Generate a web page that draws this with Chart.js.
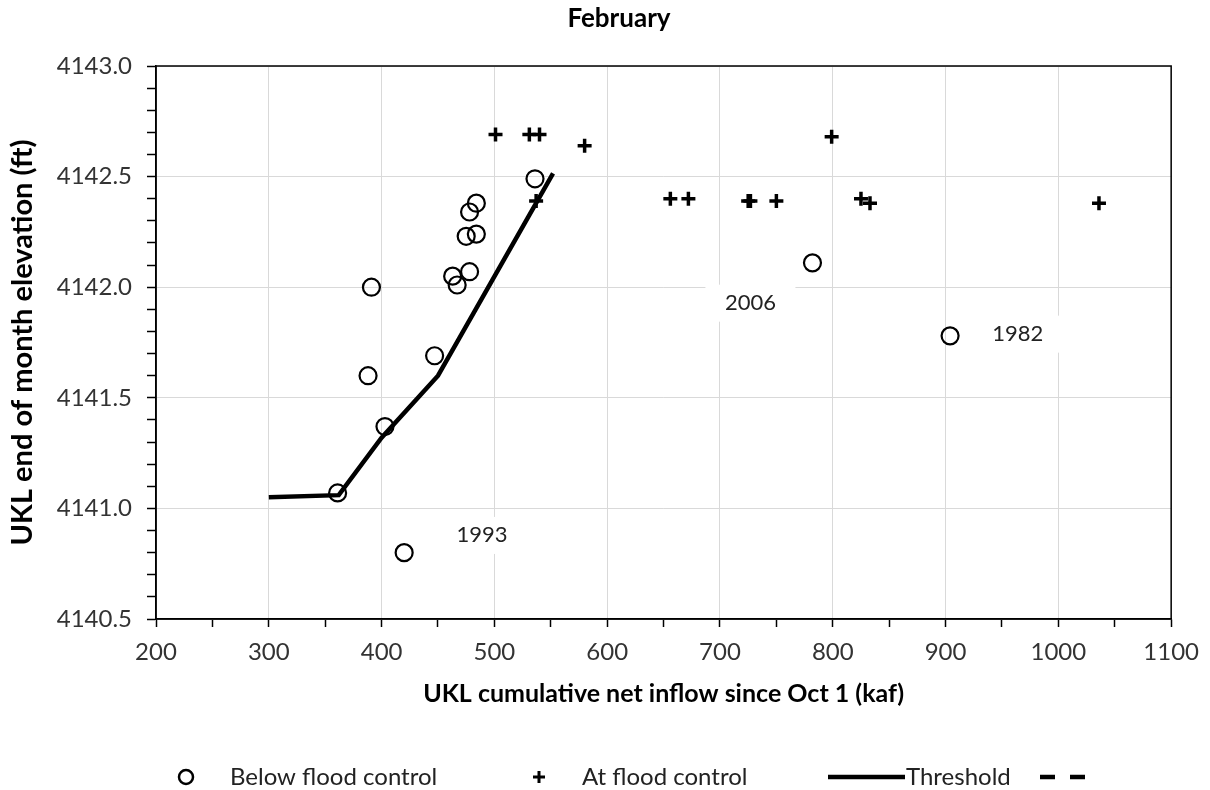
<!DOCTYPE html>
<html>
<head>
<meta charset="utf-8">
<script src="https://cdn.jsdelivr.net/npm/chart.js@4"></script>
<style>
  html, body { margin: 0; padding: 0; background: #fff; }
</style>
</head>
<body>
<canvas id="myChart" width="1210" height="790"></canvas>
<script>
// years below flood control (circles)
const belowX = [536, 484, 478, 484, 475, 478, 463, 467, 391, 447, 388, 403, 361, 420, 782, 904];
const belowY = [4142.49, 4142.38, 4142.34, 4142.24, 4142.23, 4142.07, 4142.05, 4142.01, 4142.00,
                4141.69, 4141.60, 4141.37, 4141.07, 4140.80, 4142.11, 4141.78];

// years at flood control (crosses)
const atX = [501, 531, 540, 580, 537, 656, 672, 725, 727, 750, 799, 825, 833, 1036];
const atY = [4142.69, 4142.69, 4142.69, 4142.64, 4142.39, 4142.40, 4142.40, 4142.39, 4142.39,
             4142.39, 4142.68, 4142.40, 4142.38, 4142.38];

// threshold curve
const thresholdX = [300, 362, 400, 450, 552];
const thresholdY = [4141.05, 4141.06, 4141.32, 4141.60, 4142.515];

// annotated years
const yearText = ['1993', '2006', '1982'];
const yearX = [489, 727, 964];
const yearY = [4140.88, 4141.93, 4141.79];

const FONT = 'Lato, "Open Sans", sans-serif';
const GRID = '#d9d9d9';

const toPoints = (xs, ys) => xs.map((x, i) => ({ x: x, y: ys[i] }));

const framePlugin = {
    id: 'frame',
    afterDraw(chart) {
        const { ctx, chartArea: a } = chart;
        ctx.save();
        ctx.strokeStyle = '#000';
        ctx.lineWidth = 1.5;
        ctx.strokeRect(a.left, a.top, a.right - a.left, a.bottom - a.top);
        // title
        ctx.fillStyle = '#000';
        ctx.font = 'bold 26px ' + FONT;
        ctx.textAlign = 'center';
        ctx.textBaseline = 'middle';
        ctx.fillText('February', 619, 19);
        ctx.restore();
    }
};

const yearPlugin = {
    id: 'years',
    afterDatasetsDraw(chart) {
        const { ctx, scales } = chart;
        ctx.save();
        ctx.font = '22px ' + FONT;
        ctx.textAlign = 'center';
        ctx.textBaseline = 'middle';
        yearText.forEach((t, i) => {
            const px = scales.x.getPixelForValue(yearX[i]);
            const py = scales.y.getPixelForValue(yearY[i]);
            ctx.fillStyle = '#fff';
            ctx.fillRect(px - 45, py - 18, 90, 37);
            ctx.fillStyle = '#222';
            ctx.fillText(t, px, py);
        });
        ctx.restore();
    }
};

const legendPlugin = {
    id: 'bottomLegend',
    afterDraw(chart) {
        const ctx = chart.ctx;
        const y = 777;
        ctx.save();
        ctx.strokeStyle = '#000';
        ctx.fillStyle = '#222';
        ctx.font = '24px ' + FONT;
        ctx.textBaseline = 'middle';
        ctx.textAlign = 'left';
        // circle
        ctx.lineWidth = 2.5;
        ctx.beginPath();
        ctx.arc(186, y, 7, 0, Math.PI * 2);
        ctx.stroke();
        ctx.fillText(chart.data.datasets[0].label, 230, y);
        // cross
        ctx.lineWidth = 3;
        ctx.beginPath();
        ctx.moveTo(533, y); ctx.lineTo(545, y);
        ctx.moveTo(539, y - 6); ctx.lineTo(539, y + 6);
        ctx.stroke();
        ctx.fillText(chart.data.datasets[1].label, 582, y);
        // threshold line
        ctx.lineWidth = 4.5;
        ctx.beginPath();
        ctx.moveTo(828, y); ctx.lineTo(905, y);
        ctx.stroke();
        ctx.fillText(chart.data.datasets[2].label, 906, y);
        // dashed
        ctx.setLineDash([15, 15]);
        ctx.beginPath();
        ctx.moveTo(1040, y); ctx.lineTo(1085, y);
        ctx.stroke();
        ctx.restore();
    }
};

const data = {
    datasets: [{
        label: 'Below flood control',
        data: toPoints(belowX, belowY),
        showLine: false,
        pointStyle: 'circle',
        pointRadius: 8.5,
        pointBorderWidth: 2.2,
        borderColor: '#000',
        backgroundColor: 'rgba(0,0,0,0)',
        order: 1
    }, {
        label: 'At flood control',
        data: toPoints(atX, atY),
        showLine: false,
        pointStyle: 'cross',
        pointRadius: 7,
        pointBorderWidth: 3.5,
        borderColor: '#000',
        backgroundColor: '#000',
        order: 2
    }, {
        label: 'Threshold',
        data: toPoints(thresholdX, thresholdY),
        showLine: true,
        borderColor: '#000',
        borderWidth: 4.5,
        pointRadius: 0,
        tension: 0,
        order: 3
    }, {
        label: '',
        data: [],
        showLine: true,
        borderColor: '#000',
        borderWidth: 4.5,
        borderDash: [15, 15],
        pointRadius: 0,
        order: 4
    }]
};

const isMajorX = v => Math.abs(v % 100) < 1e-6;
const isMajorY = v => Math.abs(v * 2 - Math.round(v * 2)) < 1e-6;

const config = {
    type: 'scatter',
    data: data,
    options: {
        responsive: false,
        animation: false,
        layout: { padding: { top: 66, right: 37, bottom: 81, left: 0 } },
        plugins: {
            legend: { display: false },
            tooltip: { enabled: false }
        },
        scales: {
            x: {
                type: 'linear',
                min: 200,
                max: 1100,
                afterFit: s => { s.height = 90; },
                ticks: {
                    stepSize: 50,
                    autoSkip: false,
                    maxRotation: 0,
                    padding: 11,
                    color: '#333',
                    font: { family: FONT, size: 24 },
                    callback: v => isMajorX(v) ? v : ''
                },
                grid: {
                    color: c => isMajorX(c.tick.value) ? GRID : 'rgba(0,0,0,0)',
                    tickColor: '#000',
                    tickLength: 8,
                    tickWidth: 1.5
                },
                border: { display: true, color: '#000', width: 1.5 },
                title: {
                    display: true,
                    text: 'UKL cumulative net inflow since Oct 1 (kaf)',
                    color: '#000',
                    font: { family: FONT, size: 25, weight: 'bold' },
                    padding: { top: 1, bottom: 0 }
                }
            },
            y: {
                type: 'linear',
                min: 4140.5,
                max: 4143,
                afterFit: s => { s.width = 156; },
                ticks: {
                    stepSize: 0.1,
                    autoSkip: false,
                    padding: 15,
                    color: '#333',
                    font: { family: FONT, size: 24 },
                    callback: v => isMajorY(v) ? v.toFixed(1) : ''
                },
                grid: {
                    color: c => isMajorY(c.tick.value) ? GRID : 'rgba(0,0,0,0)',
                    tickColor: '#000',
                    tickLength: 9,
                    tickWidth: 1.5
                },
                border: { display: true, color: '#000', width: 1.5 },
                title: {
                    display: true,
                    text: 'UKL end of month elevation (ft)',
                    color: '#000',
                    font: { family: FONT, size: 29, weight: 'bold' },
                    padding: { top: 5, bottom: 0 }
                }
            }
        }
    },
    plugins: [framePlugin, yearPlugin, legendPlugin]
};

const myChart = new Chart(
    document.getElementById('myChart'),
    config
);
</script>
</body>
</html>
